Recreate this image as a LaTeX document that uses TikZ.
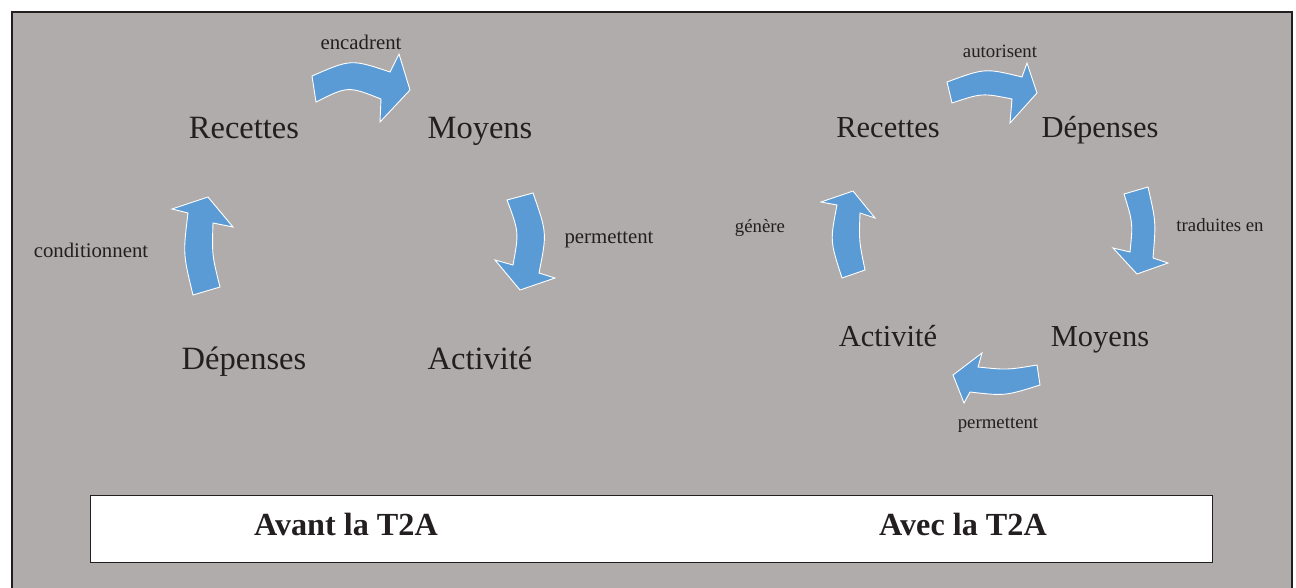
\documentclass[tikz,border=0pt]{standalone}
\usepackage{fontspec}
\setmainfont{Liberation Serif}
\definecolor{panelgray}{RGB}{176,172,171}
\definecolor{flowblue}{RGB}{91,155,213}
\definecolor{ink}{RGB}{35,31,32}
\begin{document}
\begin{tikzpicture}[x=1pt,y=-1pt,
  flow/.style={fill=flowblue,draw=white,line width=0.9pt,line join=miter},
  bigterm/.style={anchor=base,text=ink,inner sep=0pt,font=\fontsize{32.5}{38}\selectfont},
  midterm/.style={anchor=base,text=ink,inner sep=0pt,font=\fontsize{30.5}{36}\selectfont},
  verbL/.style={anchor=base,text=ink,inner sep=0pt,font=\fontsize{20.8}{24}\selectfont},
  verbR/.style={anchor=base,text=ink,inner sep=0pt,font=\fontsize{18.8}{22}\selectfont},
  era/.style={anchor=base,text=ink,inner sep=0pt,font=\fontsize{32.2}{36}\selectfont\bfseries}]
\useasboundingbox (0,0) rectangle (1296,587);
\begin{scope}
\clip (0,0) rectangle (1296,587);
% grey panel with dark frame
\draw[fill=panelgray,draw=ink,line width=2pt] (11.5,11.5) rectangle (1292,640);
\end{scope}
% caption band
\draw[fill=white,draw=ink,line width=1.5pt] (90.5,495.5) rectangle (1212.5,562.5);
\node[era] (avant) at (346,535) {Avant la T2A};
\node[era] (avec) at (963,535) {Avec la T2A};

% ---- left cycle ----
\node[bigterm] (recL) at (244,138) {Recettes};
\node[bigterm] (moyL) at (480,138) {Moyens};
\node[bigterm] (actL) at (480,369) {Activité};
\node[bigterm] (depL) at (244,369) {Dépenses};
\node[verbL] (encadrent) at (361,49) {encadrent};
\node[verbL] (permL) at (609,243) {permettent};
\node[verbL] (condL) at (91,257) {conditionnent};

\path[flow] (312,76) .. controls (351,59) .. (390,72) -- (399,54) -- (410,90)
  -- (380,122) -- (381,99) .. controls (348,86) .. (316,102) -- cycle;
\path[flow] (507,200) -- (533,193) .. controls (547,233) .. (539,273)
  -- (555,278) -- (520,290) -- (495,260) -- (513,265)
  .. controls (519,232) .. (507,200) -- cycle;
\path[flow] (193,295) -- (220,287) .. controls (212,255) .. (213,223)
  -- (233,227) -- (208,197) -- (172,209) -- (188,213)
  .. controls (183,254) .. (193,295) -- cycle;

% ---- right cycle ----
\node[midterm] (recR) at (888,137) {Recettes};
\node[midterm] (depR) at (1100,137) {Dépenses};
\node[midterm] (moyR) at (1100,346) {Moyens};
\node[midterm] (actR) at (888,346) {Activité};
\node[verbR] (autorisent) at (1000,57) {autorisent};
\node[verbR] (traduites) at (1220,231) {traduites en};
\node[verbR] (genere) at (760,232) {génère};
\node[verbR] (permR) at (998,428) {permettent};

\path[flow] (947,82) .. controls (985,68) .. (1022,77) -- (1027,63) -- (1037,93)
  -- (1010,123) -- (1012,99) .. controls (982,93) .. (952,103) -- cycle;
\path[flow] (1124,194) -- (1148,187) .. controls (1156,222) .. (1153,258)
  -- (1168,263) -- (1137,274) -- (1113,248) -- (1130,252)
  .. controls (1133,223) .. (1124,194) -- cycle;
\path[flow] (1037,365) -- (1040,385) .. controls (1005,396) .. (970,392)
  -- (964,403) -- (953,375) -- (982,353) -- (978,367)
  .. controls (1007,370) .. (1037,365) -- cycle;
\path[flow] (842,278) -- (865,270) .. controls (859,241) .. (860,213)
  -- (875,218) -- (853,191) -- (821,202) -- (837,205)
  .. controls (830,241) .. (842,278) -- cycle;
\end{tikzpicture}
\end{document}
